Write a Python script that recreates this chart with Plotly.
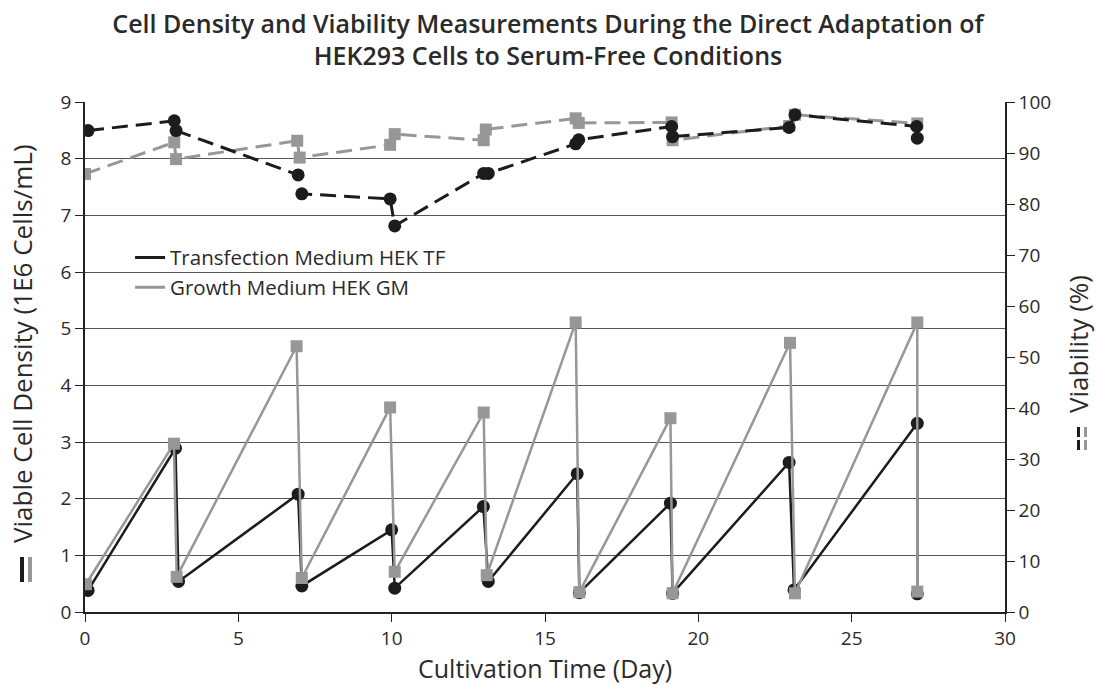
import plotly.graph_objects as go

# ---- data ----
days_tf_density = [0.1, 2.95, 3.05, 6.95, 7.07, 10.0, 10.1, 12.99, 13.15, 16.05, 16.12, 19.09, 19.16, 22.96, 23.12, 27.14, 27.14]
density_tf = [0.38, 2.89, 0.54, 2.08, 0.46, 1.45, 0.42, 1.86, 0.54, 2.44, 0.34, 1.92, 0.33, 2.64, 0.39, 3.33, 0.32]

days_gm_density = [0.03, 2.9, 2.99, 6.9, 7.07, 9.95, 10.1, 13.0, 13.1, 16.0, 16.12, 19.09, 19.16, 22.99, 23.15, 27.14, 27.14]
density_gm = [0.49, 2.97, 0.62, 4.69, 0.6, 3.61, 0.71, 3.52, 0.65, 5.11, 0.35, 3.42, 0.33, 4.75, 0.33, 5.11, 0.36]

days_tf_viab = [0.1, 2.91, 2.97, 6.95, 7.07, 9.95, 10.1, 13.0, 13.15, 16.0, 16.1, 19.13, 19.16, 22.96, 23.15, 27.12, 27.14]
viability_tf = [94.4, 96.3, 94.4, 85.7, 82.0, 81.0, 75.7, 86.0, 86.0, 91.8, 92.6, 95.2, 93.2, 95.0, 97.5, 95.2, 92.9]

days_gm_viab = [0.0, 2.91, 2.97, 6.92, 7.0, 9.95, 10.1, 13.0, 13.07, 16.0, 16.1, 19.13, 19.16, 22.96, 23.15, 27.14]
viability_gm = [85.9, 92.1, 88.8, 92.4, 89.1, 91.6, 93.7, 92.5, 94.6, 96.8, 95.9, 96.0, 92.5, 95.3, 97.5, 95.8]

series_names = ["Transfection Medium HEK TF", "Growth Medium HEK GM"]
x_ticks = [0, 5, 10, 15, 20, 25, 30]
y_left_ticks = [0, 1, 2, 3, 4, 5, 6, 7, 8, 9]
y_right_ticks = [0, 10, 20, 30, 40, 50, 60, 70, 80, 90, 100]

BLACK = "#1c1c1c"
GRAY = "#979797"
TXT = "#2a2a2a"
FONT = "Open Sans"

fig = go.Figure()

# viability (right axis, dashed)
fig.add_trace(go.Scatter(x=days_gm_viab, y=viability_gm, yaxis="y2", mode="lines+markers",
                         line=dict(color=GRAY, width=3, dash="16px,8px"),
                         marker=dict(symbol="square", size=12, color=GRAY), showlegend=False))
fig.add_trace(go.Scatter(x=days_tf_viab, y=viability_tf, yaxis="y2", mode="lines+markers",
                         line=dict(color=BLACK, width=3, dash="16px,8px"),
                         marker=dict(symbol="circle", size=13, color=BLACK), showlegend=False))
# density (left axis, solid)
fig.add_trace(go.Scatter(x=days_tf_density, y=density_tf, mode="lines+markers",
                         line=dict(color=BLACK, width=2.5),
                         marker=dict(symbol="circle", size=13, color=BLACK), showlegend=False))
fig.add_trace(go.Scatter(x=days_gm_density, y=density_gm, mode="lines+markers",
                         line=dict(color=GRAY, width=2.5),
                         marker=dict(symbol="square", size=12, color=GRAY), showlegend=False))

# legend entries (lines only)
fig.add_trace(go.Scatter(x=[None], y=[None], mode="lines", name=series_names[0],
                         line=dict(color=BLACK, width=3)))
fig.add_trace(go.Scatter(x=[None], y=[None], mode="lines", name=series_names[1],
                         line=dict(color=GRAY, width=3)))

fig.update_layout(
    width=1096, height=685,
    margin=dict(l=85, r=91, t=102, b=73),
    paper_bgcolor="white", plot_bgcolor="white",
    font=dict(family=FONT, color=TXT, size=19),
    title=dict(text="Cell Density and Viability Measurements During the Direct Adaptation of<br>HEK293 Cells to Serum-Free Conditions",
               x=0.5, xanchor="center", y=0.952, yanchor="top", yref="container",
               font=dict(family=FONT, size=25, color=TXT, weight=600)),
    xaxis=dict(range=[0, 30], tickvals=x_ticks, showgrid=False, zeroline=False,
               showline=True, linecolor="#222222", linewidth=1.5,
               ticks="outside", ticklen=8, tickcolor="#222222", tickfont=dict(size=19)),
    yaxis=dict(range=[0, 9], tickvals=y_left_ticks, showgrid=True, gridcolor="#555555", gridwidth=1,
               zeroline=False, showline=True, linecolor="#222222", linewidth=1.5,
               ticks="outside", ticklen=8, tickcolor="#222222", tickfont=dict(size=19)),
    yaxis2=dict(range=[0, 100], tickvals=y_right_ticks, overlaying="y", side="right",
                showgrid=False, zeroline=False, showline=True, linecolor="#222222", linewidth=1.5,
                ticks="outside", ticklen=8, tickcolor="#222222", tickfont=dict(size=19)),
    legend=dict(x=0.049, y=0.734, xanchor="left", yanchor="top", bgcolor="rgba(0,0,0,0)",
                font=dict(size=20.5, color=TXT), itemwidth=30, tracegroupgap=0),
    showlegend=True,
)

# white panel behind legend (hides the gridline there)
fig.add_shape(type="rect", xref="paper", yref="paper", layer="between",
              x0=(130 - 85) / 920, x1=(487 - 85) / 920, y0=(612 - 297) / 510, y1=(612 - 247) / 510,
              line=dict(width=0), fillcolor="white")

# axis titles as annotations
fig.add_annotation(text="Cultivation Time (Day)", xref="paper", yref="paper", x=0.5, y=(612 - 668) / 510,
                   xanchor="center", yanchor="middle", showarrow=False, font=dict(size=25))
fig.add_annotation(text="Viable Cell Density (1E6 Cells/mL)", xref="paper", yref="paper",
                   x=-0.0685, y=(612 - 343) / 510, textangle=-90, xanchor="center", yanchor="middle",
                   showarrow=False, font=dict(size=26))
fig.add_annotation(text="Viability (%)", xref="paper", yref="paper",
                   x=(1078 - 85) / 920, y=(612 - 344) / 510, textangle=-90, xanchor="center", yanchor="middle",
                   showarrow=False, font=dict(size=26))

# axis-title line symbols
fig.add_shape(type="line", xref="paper", yref="paper", x0=-0.0685, x1=-0.0685, y0=0.0588, y1=0.1078,
              line=dict(color=BLACK, width=4))
fig.add_shape(type="line", xref="paper", yref="paper", x0=-0.0598, x1=-0.0598, y0=0.0588, y1=0.1078,
              line=dict(color=GRAY, width=4))
fig.add_shape(type="line", xref="paper", yref="paper", x0=1.0799, x1=1.0799, y0=0.3176, y1=0.3633,
              line=dict(color=BLACK, width=3, dash="10px,3px"))
fig.add_shape(type="line", xref="paper", yref="paper", x0=1.0875, x1=1.0875, y0=0.3176, y1=0.3633,
              line=dict(color=GRAY, width=3, dash="10px,3px"))

fig.write_html("out.html", config={"displayModeBar": False},
               post_script="document.body.style.margin='0';")
